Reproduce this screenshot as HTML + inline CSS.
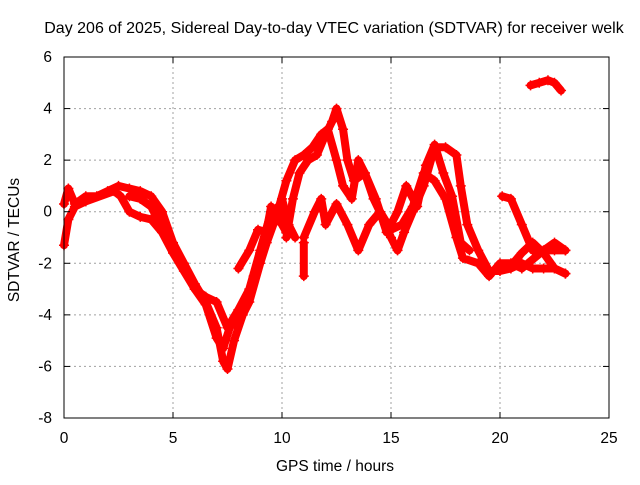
<!DOCTYPE html>
<html><head><meta charset="utf-8"><style>
body{margin:0;background:#fff}
svg text{font-family:"Liberation Sans",sans-serif;font-size:15.5px;fill:#000}
</style></head><body>
<svg id="chart" width="640" height="480" xmlns="http://www.w3.org/2000/svg">
<rect width="640" height="480" fill="#fff"/>
<text x="334" y="33" text-anchor="middle" style="font-size:16px">Day 206 of 2025, Sidereal Day-to-day VTEC variation (SDTVAR) for receiver welk</text>
<g id="grid"></g>
<g id="series"></g>
<rect x="64" y="57" width="545" height="361" fill="none" stroke="#000" stroke-width="1"/>
<g id="ticks"></g>
<text x="335" y="471" text-anchor="middle">GPS time / hours</text>
<text transform="translate(19,240) rotate(-90)" text-anchor="middle">SDTVAR / TECUs</text>
</svg>
<script>
const xTicks=[0,5,10,15,20,25];
const yTicks=[-8,-6,-4,-2,0,2,4,6];
const traceA=[[0,0.3],[0.2,0.9],[0.5,0.3],[1,0.6],[1.5,0.6],[2,0.8],[2.5,1.0],[3,0.9],[3.5,0.8],[4,0.6],[4.5,0],[5,-1.2],[5.5,-2],[6,-2.8],[6.5,-3.5],[7,-4.5],[7.3,-5.8],[7.5,-6.1],[7.8,-5],[8.2,-4],[8.5,-3.5],[9,-2],[9.3,-1.2],[9.6,-0.5],[10,0.5],[10.3,-0.5],[10.6,-1]];
const traceB=[[0,-1.3],[0.2,-0.3],[0.5,0.2],[1,0.4],[2.3,0.8],[2.6,0.6],[3,0],[3.5,-0.2],[4,-0.3],[4.5,-0.8],[5,-1.6],[5.5,-2.3],[6,-3],[6.5,-3.6],[7,-4.9],[7.3,-5.3],[7.6,-4.5],[8,-4],[8.3,-3.6],[8.7,-2.5],[9,-1.6],[9.3,-0.7],[9.5,0.2],[9.8,-0.2],[10.2,-0.8]];
const traceC=[[3,0.6],[3.5,0.5],[4,0.2],[4.3,-0.3],[5,-1.5],[6,-3],[6.5,-3.3],[7,-3.5],[7.5,-4.5],[8,-3.8],[8.5,-3],[9,-1.5],[9.5,0],[10,0.3],[10.2,-0.8]];
const traceD=[[8,-2.2],[8.5,-1.5],[8.9,-0.7],[9.3,-0.8]];
const traceE=[[10.2,-1],[10.5,0.5],[10.8,1.5],[11.2,2],[11.6,2.2],[12,3],[12.3,3.5],[12.5,4],[12.8,3.2],[13,2],[13.3,1.2],[13.8,1.5],[14.2,0.5],[14.6,-0.2],[15,-1],[15.3,-1.5],[15.6,-0.8],[16,0],[16.5,1],[17,2.5],[17.5,2.5],[18,2.2],[18.2,1],[18.5,-0.5],[19,-1.5],[19.5,-2.3],[20,-2.3],[20.5,-2.2],[21,-2],[21.5,-2.2],[22,-2.2],[22.5,-2.2],[23,-2.4]];
const traceF=[[11,-1],[11.5,0],[11.8,0.5],[12,-0.5],[12.5,0.3],[13,-0.5],[13.5,-1.5],[14,-0.5],[14.5,0],[15,-0.7],[15.5,-0.5],[16,0.2],[16.5,1.5],[17,1.2],[17.5,0.5],[18,-1],[18.3,-1.8],[19,-2],[19.5,-2.5],[20,-2],[20.5,-2],[21,-2.2],[22,-1.5],[22.5,-1.2],[23,-1.5]];
const traceG=[[9.8,0],[10.2,1.2],[10.6,2],[11,2.2],[11.4,2.5],[11.8,3],[12.1,3.2],[12.5,2],[12.8,1],[13.2,0.5],[13.5,2],[13.8,1.5],[14.3,0.5],[14.8,-0.8],[15.3,0],[15.7,1],[16.2,0.2],[16.6,1.8],[17,2.6],[17.4,1.5],[17.8,0.6],[18.2,-1.2],[18.6,-1.5]];
const traceH=[[20.1,0.6],[20.5,0.5],[21,-0.5],[21.5,-1.5],[22,-1.5],[22.5,-1.5],[23,-1.5]];
const traceI=[[20.5,-2.1],[21,-1.6],[21.5,-1.2],[22,-1.6],[22.5,-2.2],[23,-2.4]];
const traceJ=[[21.4,4.9],[21.8,5],[22.2,5.1],[22.5,5],[22.8,4.7]];
const traceK=[[11,-2.5],[11,-1.2]];
const traces=[traceA,traceB,traceC,traceD,traceE,traceF,traceG,traceH,traceI,traceJ,traceK];
const NS="http://www.w3.org/2000/svg";
const X0=64,X1=609,Y0=418,Y1=57;
function xs(h){return X0+(h-0)/25*(X1-X0);}
function ys(v){return Y0-(v+8)/14*(Y0-Y1);}
const grid=document.getElementById('grid'),ticks=document.getElementById('ticks'),ser=document.getElementById('series');
function mk(tag,attrs,parent){const e=document.createElementNS(NS,tag);for(const k in attrs)e.setAttribute(k,attrs[k]);parent.appendChild(e);return e;}
xTicks.forEach(t=>{const x=xs(t);
 if(t>0&&t<25){const g=mk('line',{x1:x,x2:x,y1:Y1,y2:Y0,stroke:'#a0a0a0','stroke-dasharray':'2,3'},grid);
 
 }
 const a=mk('line',{x1:x,x2:x,y1:Y0,y2:Y0-6,stroke:'#000'},ticks);
 const b=mk('line',{x1:x,x2:x,y1:Y1,y2:Y1+6,stroke:'#000'},ticks);
 const l=mk('text',{x:x,y:443,'text-anchor':'middle'},ticks);l.textContent=t;
 
 });
yTicks.forEach(t=>{const y=ys(t);
 if(t>-8&&t<6){const g=mk('line',{x1:X0,x2:X1,y1:y,y2:y,stroke:'#a0a0a0','stroke-dasharray':'2,3'},grid);
 
 }
 const a=mk('line',{x1:X0,x2:X0+6,y1:y,y2:y,stroke:'#000'},ticks);
 const b=mk('line',{x1:X1,x2:X1-6,y1:y,y2:y,stroke:'#000'},ticks);
 const l=mk('text',{x:52,y:y+5,'text-anchor':'end'},ticks);l.textContent=t;
 
 });
traces.forEach((tr,i)=>{
 const p=mk('polyline',{points:tr.map(d=>xs(d[0])+','+ys(d[1])).join(' '),fill:'none',stroke:'#ff0000','stroke-width':8,'stroke-linejoin':'round','stroke-linecap':'round'},ser);
 
 
 tr.forEach(d=>{const x=xs(d[0]),y=ys(d[1]);
  const m=mk('path',{d:`M${x-5},${y}H${x+5}M${x},${y-5}V${y+5}`,stroke:'#ff0000','stroke-width':1.5},ser);
  
  });
});
</script>
</body></html>
